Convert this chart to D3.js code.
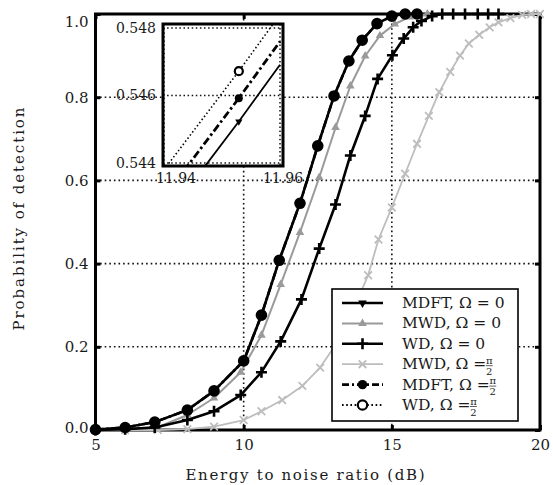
<!DOCTYPE html>
<html>
<head>
<meta charset="utf-8">
<script src="https://cdn.jsdelivr.net/npm/d3@7"></script>
<style>
  body { margin: 0; background: #fff; }
  text { font-family: "DejaVu Serif", "Liberation Serif", serif; fill: #1a1a1a; }
</style>
</head>
<body>
<svg id="chart" width="553" height="485"></svg>
<script>
// axis ticks / grid
const xTicks = [5, 10, 15, 20];
const yTicks = [0, 0.2, 0.4, 0.6, 0.8, 1.0];
const gridX = [10, 15];
const gridY = [0.2, 0.4, 0.6, 0.8];

// series, [ENR dB, Pd]
const mdft0 = [[5,0.001],[6,0.006],[7,0.019],[8.1,0.048],[9,0.094],[10,0.166],[10.6,0.276],[11.2,0.408],[11.9,0.545],[12.5,0.683],[13.05,0.803],[13.55,0.887],[14.0,0.937],[14.5,0.977],[15.0,0.995],[15.45,1.0],[15.85,1.0]];
const mwd0 = [[5,0.0],[6,0.002],[7.1,0.007],[8.1,0.036],[9,0.077],[9.9,0.139],[10.6,0.228],[11.25,0.35],[11.9,0.475],[12.55,0.607],[13.1,0.727],[13.6,0.827],[14.1,0.899],[14.6,0.948],[15.1,0.976],[15.6,0.993],[16.2,1.0]];
const wd0 = [[5,0.0],[6,0.002],[7,0.006],[8.1,0.024],[9.0,0.045],[9.9,0.084],[10.6,0.139],[11.25,0.213],[11.95,0.314],[12.55,0.436],[13.1,0.542],[13.6,0.66],[14.1,0.755],[14.52,0.844],[15.02,0.901],[15.4,0.941],[15.72,0.968],[16.0,0.983],[16.36,0.995],[16.7,1.0],[17.07,1.0],[17.47,1.0],[17.9,1.0],[18.25,1.0],[18.6,1.0]];
const mwdHalf = [[5,0.0],[6,0.0],[7.1,0.0],[8.1,0.002],[9,0.008],[10,0.024],[10.6,0.045],[11.3,0.072],[11.98,0.106],[12.58,0.15],[13.2,0.215],[13.7,0.29],[14.2,0.372],[14.55,0.458],[15.0,0.535],[15.45,0.616],[15.85,0.688],[16.25,0.755],[16.6,0.812],[16.97,0.861],[17.3,0.9],[17.6,0.929],[17.95,0.95],[18.3,0.968],[18.6,0.98],[19.0,0.99],[19.4,0.998],[19.7,1.0],[20,1.0]];
const mdftHalf = [[5,0.001],[6,0.006],[7,0.019],[8.1,0.048],[9,0.094],[10,0.166],[10.6,0.276],[11.2,0.408],[11.9,0.545],[12.5,0.683],[13.05,0.803],[13.55,0.887],[14.0,0.937],[14.5,0.977],[15.0,0.995],[15.45,1.0],[15.85,1.0]];
const wdHalf = [[5,0.001],[6,0.006],[7,0.019],[8.1,0.048],[9,0.094],[10,0.166],[10.6,0.276],[11.2,0.408],[11.9,0.545],[12.5,0.683],[13.05,0.803],[13.55,0.887],[14.0,0.937],[14.5,0.977],[15.0,0.995],[15.45,1.0],[15.85,1.0]];

// zoomed inset
const insetTicksX = [11.94, 11.96];
const insetTicksY = [0.544, 0.546, 0.548];
const insetX = [11.94, 11.9529, 11.96];
const insetMdft0 = [0.54230, 0.54523, 0.54691];
const insetMdftHalf = [0.54299, 0.54592, 0.54760];
const insetWdHalf = [0.54380, 0.54672, 0.54840];

const series = [
  { label: "MDFT", omega: "0",    data: mdft0,    inset: insetMdft0,    color: "#000",    width: 2.6, dash: null,           marker: "tridown", legendDash: null },
  { label: "MWD",  omega: "0",    data: mwd0,     inset: null,          color: "#9a9a9a", width: 2.0, dash: null,           marker: "triup",   legendDash: null },
  { label: "WD",   omega: "0",    data: wd0,      inset: null,          color: "#000",    width: 2.6, dash: null,           marker: "plus",    legendDash: null },
  { label: "MWD",  omega: "half", data: mwdHalf,  inset: null,          color: "#bdbdbd", width: 1.8, dash: null,           marker: "x",       legendDash: null },
  { label: "MDFT", omega: "half", data: mdftHalf, inset: insetMdftHalf, color: "#000",    width: 2.6, dash: "8,3,2,3",      marker: "dot",     legendDash: "7,3,2,3" },
  { label: "WD",   omega: "half", data: wdHalf,   inset: insetWdHalf,   color: "#000",    width: 1.8, dash: "1.6,2.6",      marker: "ring",    legendDash: "1.6,2.6" }
];
// back to front
const drawOrder = [3, 1, 2, 5, 0, 4];

const svg = d3.select("#chart");
svg.append("rect").attr("width", 553).attr("height", 485).attr("fill", "#fff");

const x = d3.scaleLinear().domain([5, 20]).range([95.5, 540]);
const y = d3.scaleLinear().domain([0, 1]).range([430, 14]);

function markerPath(type, scale) {
  const k = scale || 1;
  if (type === "plus") return `M${-5.5*k},0H${5.5*k}M0,${-5.5*k}V${5.5*k}`;
  if (type === "x") return `M${-3.8*k},${-3.8*k}L${3.8*k},${3.8*k}M${-3.8*k},${3.8*k}L${3.8*k},${-3.8*k}`;
  if (type === "tridown" || type === "triup") return d3.symbol(d3.symbolTriangle, 32 * k * k)();
  return d3.symbol(d3.symbolCircle, 70 * k * k)();
}

function styleMarker(sel, s, scale) {
  const k = scale || 1;
  sel.attr("d", markerPath(s.marker, k));
  if (s.marker === "plus") sel.attr("fill", "none").attr("stroke", s.color).attr("stroke-width", 2.6);
  else if (s.marker === "x") sel.attr("fill", "none").attr("stroke", s.color).attr("stroke-width", 1.8);
  else if (s.marker === "ring") sel.attr("fill", "#fff").attr("stroke", s.color).attr("stroke-width", 2.2);
  else sel.attr("fill", s.color).attr("stroke", "none");
}

function rot(s) { return s.marker === "tridown" ? " rotate(180)" : ""; }

// grid
const grid = svg.append("g")
  .attr("stroke", "#111").attr("stroke-width", 1.6).attr("stroke-dasharray", "1.6,3");
grid.selectAll("line.gx").data(gridX).join("line").attr("class", "gx")
  .attr("x1", d => x(d)).attr("x2", d => x(d)).attr("y1", y(0)).attr("y2", y(1));
grid.selectAll("line.gy").data(gridY).join("line").attr("class", "gy")
  .attr("y1", d => y(d)).attr("y2", d => y(d)).attr("x1", x(5)).attr("x2", x(20));

// frame
svg.append("rect")
  .attr("x", x(5)).attr("y", y(1)).attr("width", x(20) - x(5)).attr("height", y(0) - y(1))
  .attr("fill", "none").attr("stroke", "#000").attr("stroke-width", 3);

// ticks and labels
const fmt = d3.format(".1f");
const axB = svg.append("g").attr("transform", `translate(0,${y(0)})`)
  .call(d3.axisBottom(x).tickValues(xTicks).tickSizeInner(-5).tickSizeOuter(0).tickPadding(9));
const axL = svg.append("g").attr("transform", `translate(${x(5)},0)`)
  .call(d3.axisLeft(y).tickValues(yTicks).tickFormat(fmt).tickSizeInner(-5).tickSizeOuter(0).tickPadding(7));
const axT = svg.append("g").attr("transform", `translate(0,${y(1)})`)
  .call(d3.axisTop(x).tickValues(xTicks).tickFormat("").tickSizeInner(-5).tickSizeOuter(0));
const axR = svg.append("g").attr("transform", `translate(${x(20)},0)`)
  .call(d3.axisRight(y).tickValues(yTicks).tickFormat("").tickSizeInner(-5).tickSizeOuter(0));
[axB, axL, axT, axR].forEach(a => {
  a.select(".domain").remove();
  a.selectAll(".tick line").attr("stroke", "#000").attr("stroke-width", 3);
  a.selectAll("text").style("font-size", "15px").attr("fill", "#1a1a1a")
    .style("font-family", '"DejaVu Serif", serif');
});
axL.selectAll(".tick text").filter(d => d === 1).attr("dy", "0.85em");
axL.selectAll(".tick text").filter(d => d === 0).attr("dy", "0.18em");

// series
const line = d3.line().x(d => x(d[0])).y(d => y(d[1]));
drawOrder.forEach(i => {
  const s = series[i];
  const g = svg.append("g");
  g.append("path").datum(s.data).attr("d", line)
    .attr("fill", "none").attr("stroke", s.color).attr("stroke-width", s.width)
    .attr("stroke-linejoin", "round")
    .attr("stroke-dasharray", s.dash);
  g.selectAll("path.mk").data(s.data).join("path").attr("class", "mk")
    .attr("transform", d => `translate(${x(d[0])},${y(d[1])})` + rot(s))
    .call(sel => styleMarker(sel, s, 1));
});

// inset
const xi = d3.scaleLinear().domain([11.94, 11.96]).range([164, 280]);
const yi = d3.scaleLinear().domain([0.544, 0.548]).range([163, 28]);
const inset = svg.append("g");
inset.append("rect").attr("x", 163).attr("y", 24).attr("width", 120).attr("height", 142).attr("fill", "#fff");
inset.append("clipPath").attr("id", "insetClip")
  .append("rect").attr("x", 163).attr("y", 24).attr("width", 120).attr("height", 142);
const ig = inset.append("g").attr("clip-path", "url(#insetClip)");
const igrid = ig.append("g").attr("stroke", "#111").attr("stroke-width", 1.5).attr("stroke-dasharray", "1.5,2.6");
igrid.selectAll("line.gx").data(insetTicksX).join("line").attr("class", "gx")
  .attr("x1", d => xi(d)).attr("x2", d => xi(d)).attr("y1", 24).attr("y2", 166);
igrid.selectAll("line.gy").data(insetTicksY).join("line").attr("class", "gy")
  .attr("y1", d => yi(d)).attr("y2", d => yi(d)).attr("x1", 163).attr("x2", 283);

const iline = d3.line().x(d => xi(d[0])).y(d => yi(d[1]));
const insetStyle = {
  0: { width: 1.8, dash: null },
  4: { width: 2.8, dash: "8,3,2.5,3" },
  5: { width: 1.6, dash: "1.5,2.4" }
};
[5, 4, 0].forEach(i => {
  const s = series[i];
  const pts = insetX.map((v, j) => [v, s.inset[j]]);
  ig.append("path").datum(pts).attr("d", iline)
    .attr("fill", "none").attr("stroke", "#000")
    .attr("stroke-width", insetStyle[i].width).attr("stroke-dasharray", insetStyle[i].dash);
  ig.append("path").datum(pts[1])
    .attr("transform", d => `translate(${xi(d[0])},${yi(d[1])})` + rot(s))
    .call(sel => styleMarker(sel, s, 0.85));
});
inset.append("rect").attr("x", 163).attr("y", 24).attr("width", 120).attr("height", 142)
  .attr("fill", "none").attr("stroke", "#000").attr("stroke-width", 3);
inset.selectAll("text.ty").data(insetTicksY).join("text").attr("class", "ty")
  .attr("x", 156).attr("y", d => yi(d)).attr("dy", "0.35em")
  .attr("text-anchor", "end").style("font-size", "14px").text(d => d.toFixed(3));
inset.selectAll("text.tx").data(insetTicksX).join("text").attr("class", "tx")
  .attr("x", (d, j) => xi(d) + (j === 0 ? 12 : 3)).attr("y", 183)
  .attr("text-anchor", "middle").style("font-size", "14px").text(d => d.toFixed(2));

// axis titles
svg.append("text").attr("x", 305).attr("y", 480).attr("text-anchor", "middle")
  .style("font-size", "15px").attr("textLength", 239).attr("lengthAdjust", "spacing")
  .text("Energy to noise ratio (dB)");
svg.append("text").attr("transform", "translate(24,219) rotate(-90)").attr("text-anchor", "middle")
  .style("font-size", "15px").attr("textLength", 223).attr("lengthAdjust", "spacing")
  .text("Probability of detection");

// legend
const lg = svg.append("g");
lg.append("rect").attr("x", 332).attr("y", 289).attr("width", 186).attr("height", 132)
  .attr("fill", "#fff").attr("stroke", "#000").attr("stroke-width", 1.6);
series.forEach((s, i) => {
  const cy = 303 + i * 20.4;
  const row = lg.append("g");
  row.append("line").attr("x1", 342).attr("x2", 383).attr("y1", cy).attr("y2", cy)
    .attr("stroke", s.color).attr("stroke-width", s.width).attr("stroke-dasharray", s.legendDash);
  row.append("path").attr("transform", `translate(362.5,${cy})` + rot(s))
    .call(sel => styleMarker(sel, s, 1));
  const t = row.append("text").attr("x", 402).attr("y", cy + 5).style("font-size", "15.5px")
    .text(s.omega === "0" ? `${s.label}, Ω = 0` : `${s.label}, Ω = `);
  if (s.omega === "half") {
    const fx = 402 + t.node().getComputedTextLength() + 3;
    row.append("text").attr("x", fx).attr("y", cy - 0.5).attr("text-anchor", "middle")
      .style("font-size", "10px").text("π");
    row.append("line").attr("x1", fx - 3.5).attr("x2", fx + 3.5).attr("y1", cy + 1.5).attr("y2", cy + 1.5)
      .attr("stroke", "#1a1a1a").attr("stroke-width", 0.7);
    row.append("text").attr("x", fx).attr("y", cy + 10.5).attr("text-anchor", "middle")
      .style("font-size", "10px").text("2");
  }
});
</script>
</body>
</html>
